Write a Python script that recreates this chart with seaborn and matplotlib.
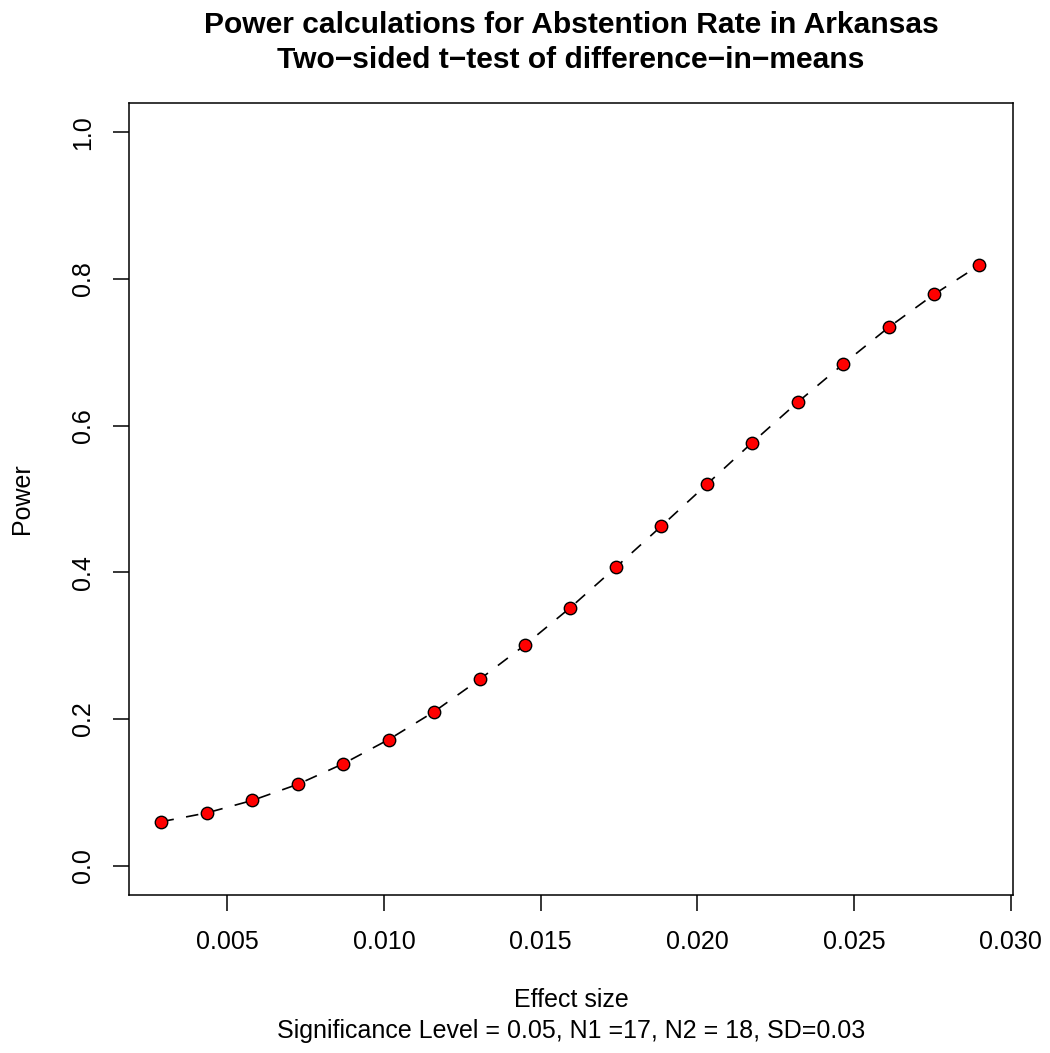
import matplotlib
matplotlib.use("Agg")
import matplotlib.pyplot as plt
import seaborn as sns
import pandas as pd

effect_size = [0.0029, 0.00435, 0.0058, 0.00725, 0.0087, 0.01015, 0.0116, 0.01305,
               0.0145, 0.01595, 0.0174, 0.01885, 0.0203, 0.02175, 0.0232, 0.02465,
               0.0261, 0.02755, 0.029]
power = [0.060, 0.072, 0.089, 0.111, 0.139, 0.172, 0.210, 0.254, 0.301, 0.352,
         0.407, 0.463, 0.520, 0.577, 0.632, 0.684, 0.734, 0.779, 0.819]
x_ticks = [0.005, 0.010, 0.015, 0.020, 0.025, 0.030]
x_tick_labels = ["0.005", "0.010", "0.015", "0.020", "0.025", "0.030"]
y_ticks = [0.0, 0.2, 0.4, 0.6, 0.8, 1.0]
y_tick_labels = ["0.0", "0.2", "0.4", "0.6", "0.8", "1.0"]

title_lines = ["Power calculations for Abstention Rate in Arkansas",
               "Two\u2212sided t\u2212test of difference\u2212in\u2212means"]
xlabel = "Effect size"
subtitle = "Significance Level = 0.05, N1 =17, N2 = 18, SD=0.03"
ylabel = "Power"

df = pd.DataFrame({"effect": effect_size, "power": power})

sns.set_style("white")
plt.rcParams["font.family"] = ["Liberation Sans", "DejaVu Sans"]
plt.rcParams["text.color"] = "black"
plt.rcParams["axes.labelcolor"] = "black"
plt.rcParams["xtick.color"] = "black"
plt.rcParams["ytick.color"] = "black"

fig = plt.figure(figsize=(10.5, 10.53), dpi=100)
ax = fig.add_axes([129/1050, 1 - 895/1053, (1013-129)/1050, (895-103)/1053])

sns.lineplot(data=df, x="effect", y="power", ax=ax, color="black", lw=1.2,
             dashes=False, sort=True)
ax.lines[0].set_dashes((7.5, 7.5))
sns.scatterplot(data=df, x="effect", y="power", ax=ax, color="red",
                edgecolor="black", linewidth=1.0, s=80, zorder=3)

ax.set_xlim(0.001863, 0.03007)
ax.set_ylim(-0.04, 1.04)
ax.set_xticks(x_ticks)
ax.set_xticklabels(x_tick_labels, fontsize=18, color="black")
ax.set_yticks(y_ticks)
ax.set_yticklabels(y_tick_labels, fontsize=18, rotation=90, va="center", color="black")
ax.tick_params(axis="both", direction="out", length=11.5, width=1.1,
               color="black", labelcolor="black", bottom=True, left=True)
ax.tick_params(axis="x", pad=14)
ax.tick_params(axis="y", pad=13)
ax.set_xlabel("")
ax.set_ylabel("")
for s in ax.spines.values():
    s.set_color("black")
    s.set_linewidth(1.1)
    s.set_visible(True)

cx = (129 + 1013) / 2 / 1050
fig.text(cx, 1 - 25/1053, title_lines[0], ha="center", va="center",
         fontsize=21.6, fontweight="bold", color="black")
fig.text(cx, 1 - 60/1053, title_lines[1], ha="center", va="center",
         fontsize=21.6, fontweight="bold", color="black")
fig.text(cx, 1 - 1000/1053, xlabel, ha="center", va="center", fontsize=18, color="black")
fig.text(cx, 1 - 1031/1053, subtitle, ha="center", va="center", fontsize=18, color="black")
fig.text(22/1050, 1 - 499/1053, ylabel, ha="center", va="center", fontsize=18,
         rotation=90, color="black")

fig.savefig("out.png", dpi=100)
